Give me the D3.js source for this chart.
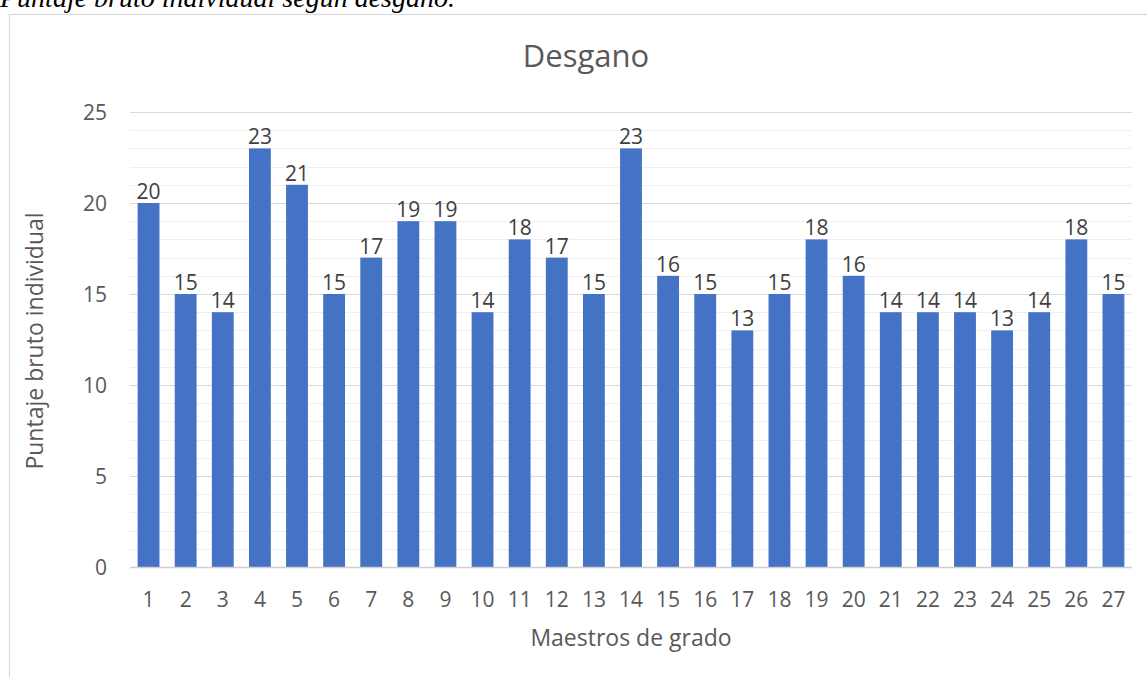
<!DOCTYPE html>
<html>
<head>
<meta charset="utf-8">
<script src="https://cdn.jsdelivr.net/npm/d3@7"></script>
<style>
  html, body { margin: 0; padding: 0; background: #fff; }
  svg { display: block; }
</style>
</head>
<body>
<svg id="chart" width="1147" height="677"></svg>
<script>
// Puntaje bruto individual por maestro (escala de desgano)
const maestros = ["1","2","3","4","5","6","7","8","9","10","11","12","13","14","15","16","17","18","19","20","21","22","23","24","25","26","27"];
const puntajes = [20,15,14,23,21,15,17,19,19,14,18,17,15,23,16,15,13,15,18,16,14,14,14,13,14,18,15];
const yTicks = [0,5,10,15,20,25];
const yGrid = d3.range(1, 26);

const W = 1147, H = 677;
const plot = { left: 130, right: 1132, top: 112, bottom: 567 };
const font = "'Open Sans', 'Noto Sans', sans-serif";

const svg = d3.select("#chart");

// chart frame
svg.append("rect")
  .attr("x", 9.5).attr("y", 14.5)
  .attr("width", W + 20).attr("height", H + 20)
  .attr("fill", "#fff")
  .attr("stroke", "#d9d9d9").attr("stroke-width", 1.2);

// caption above the chart frame
svg.append("text")
  .attr("x", 0).attr("y", 7)
  .attr("font-family", "'Liberation Serif', 'Times New Roman', serif")
  .attr("font-style", "italic")
  .attr("font-size", 28)
  .attr("fill", "#000")
  .text("Puntaje bruto individual según desgano.");

const x = d3.scaleBand()
  .domain(maestros)
  .range([plot.left, plot.right])
  .paddingInner(0.7 / 1.7)
  .paddingOuter(0.35 / 1.7);

const y = d3.scaleLinear()
  .domain([0, 25])
  .range([plot.bottom, plot.top]);

// gridlines, one per unit
svg.append("g")
  .selectAll("line")
  .data(yGrid)
  .join("line")
  .attr("x1", plot.left).attr("x2", plot.right)
  .attr("y1", d => Math.round(y(d)) + 0.5)
  .attr("y2", d => Math.round(y(d)) + 0.5)
  .attr("stroke", d => d % 5 === 0 ? "#d9d9d9" : "#efefef")
  .attr("stroke-width", 1.2);

// bars
svg.append("g")
  .selectAll("rect")
  .data(puntajes)
  .join("rect")
  .attr("x", (d, i) => x(maestros[i]))
  .attr("width", x.bandwidth())
  .attr("y", d => y(d))
  .attr("height", d => y(0) - y(d))
  .attr("fill", "#4472c4");

// value labels
svg.append("g")
  .selectAll("text")
  .data(puntajes)
  .join("text")
  .attr("x", (d, i) => x(maestros[i]) + x.bandwidth() / 2)
  .attr("y", d => y(d) - 4)
  .attr("text-anchor", "middle")
  .attr("font-family", font)
  .attr("font-size", 21)
  .attr("fill", "#404040")
  .text(d => d);

// baseline axis
svg.append("line")
  .attr("x1", plot.left).attr("x2", plot.right)
  .attr("y1", y(0) + 0.5).attr("y2", y(0) + 0.5)
  .attr("stroke", "#d0d0d0").attr("stroke-width", 1.5);

// y axis labels
const yAxis = d3.axisLeft(y).tickValues(yTicks).tickSize(0).tickPadding(0);
const gy = svg.append("g").attr("transform", `translate(${plot.left - 23},0)`).call(yAxis);
gy.select(".domain").remove();
gy.selectAll("text")
  .attr("font-family", font).attr("font-size", 21)
  .attr("fill", "#595959").attr("dy", "0.35em");

// x axis labels
const xAxis = d3.axisBottom(x).tickSize(0).tickPadding(0);
const gx = svg.append("g").attr("transform", `translate(0,${plot.bottom + 25})`).call(xAxis);
gx.select(".domain").remove();
gx.selectAll("text")
  .attr("font-family", font).attr("font-size", 21)
  .attr("fill", "#595959");

// title
svg.append("text")
  .attr("x", 586).attr("y", 67)
  .attr("text-anchor", "middle")
  .attr("font-family", font).attr("font-size", 31)
  .attr("fill", "#595959")
  .text("Desgano");

// axis titles
svg.append("text")
  .attr("x", 631).attr("y", 646)
  .attr("text-anchor", "middle")
  .attr("font-family", font).attr("font-size", 23)
  .attr("fill", "#595959")
  .text("Maestros de grado");

svg.append("text")
  .attr("transform", `translate(43,${341}) rotate(-90)`)
  .attr("text-anchor", "middle")
  .attr("font-family", font).attr("font-size", 23)
  .attr("fill", "#595959")
  .text("Puntaje bruto individual");
</script>
</body>
</html>
